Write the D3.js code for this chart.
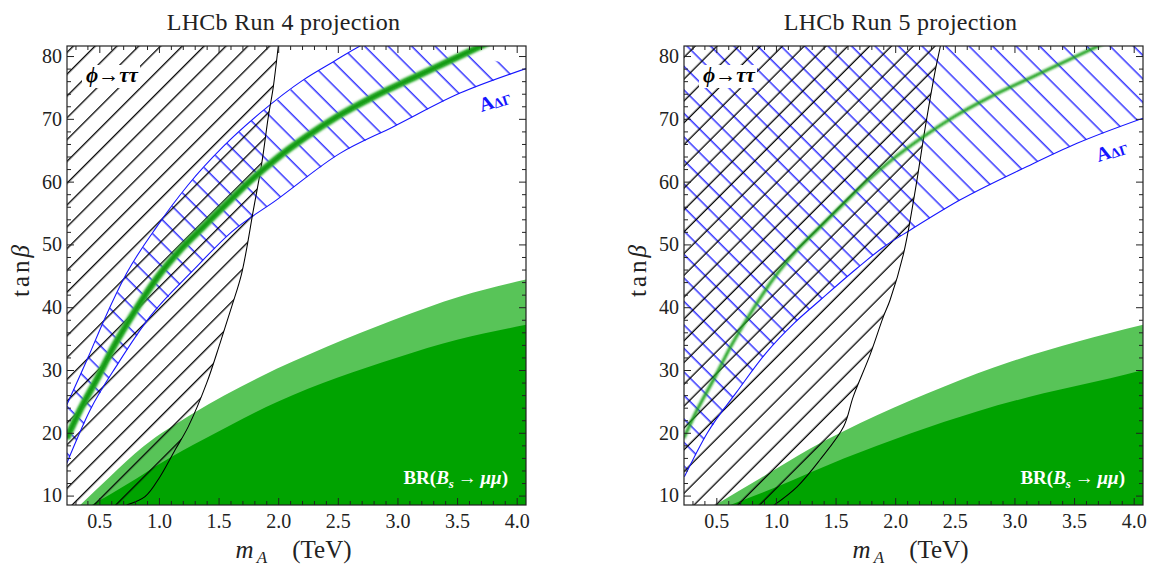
<!DOCTYPE html>
<html>
<head>
<meta charset="utf-8">
<script src="https://cdn.jsdelivr.net/npm/d3@7"></script>
<style>
  body { margin: 0; background: #fff; }
  svg { display: block; font-family: "Liberation Serif", "Times New Roman", serif; }
</style>
</head>
<body>
<svg id="chart" width="1150" height="568"></svg>
<script>
// ---------- data ----------
const titles = ["LHCb Run 4 projection", "LHCb Run 5 projection"];
const xTicks = [0.5, 1.0, 1.5, 2.0, 2.5, 3.0, 3.5, 4.0];
const yTicks = [10, 20, 30, 40, 50, 60, 70, 80];
const mARange = [0.229, 4.078];
const tanBetaRange = [8.5, 81.6];

// central A_ΔΓ contour, [m_A (TeV), tanβ]
const centralLine = [[0.226,19.1],[0.338,23.6],[0.492,29.0],[0.617,33.6],[0.799,39.4],[0.981,44.6],[1.177,49.1],[1.372,52.8],[1.568,56.5],[1.764,60.1],[1.987,63.7],[2.239,67.2],[2.490,70.3],[2.798,73.5],[3.13,76.5],[3.41,79.0],[3.69,81.5],[3.80,82.5]];

// A_ΔΓ bands
const run4BandUpper = [[0.226,24.4],[0.408,32.1],[0.534,37.7],[0.729,45.4],[0.981,52.8],[1.246,59.5],[1.540,65.6],[1.847,70.9],[2.211,76.2],[2.463,79.1],[2.686,81.6],[2.91,83.6]];
const run4BandLower = [[0.226,15.1],[0.422,23.6],[0.659,31.1],[0.925,38.5],[1.288,45.9],[1.610,52.0],[1.987,57.1],[2.518,64.5],[2.966,68.75],[3.525,74.1],[4.078,78.0]];
const run5BandUpper = [[0.20,86.0],[4.10,100.0]];
const run5BandLower = [[0.232,13.0],[0.422,19.9],[0.673,26.55],[0.925,32.9],[1.149,37.4],[1.372,41.15],[1.680,46.2],[1.903,49.6],[2.127,52.3],[2.546,57.1],[3.106,62.4],[3.525,66.1],[4.078,70.1]];

// φ→ττ exclusion boundaries
const run4TauBoundary = [[0.729,8.5],[0.883,9.83],[1.009,13.0],[1.135,17.26],[1.246,20.98],[1.400,27.9],[1.512,34.25],[1.610,40.1],[1.694,45.4],[1.792,55.5],[1.862,62.9],[1.917,70.3],[1.959,75.1],[2.001,81.6],[2.01,83]];
const run5TauBoundary = [[0.978,8.4],[1.177,11.4],[1.369,15.7],[1.568,21.0],[1.649,25.8],[1.789,32.4],[1.901,38.5],[1.957,41.15],[2.071,48.6],[2.169,58.7],[2.253,68.75],[2.337,77.8],[2.379,81.6],[2.39,83]];

// BR(Bs→μμ) regions
const run4BsLight = [[0.34,8.5],[0.589,13.0],[0.869,17.8],[1.288,23.1],[1.847,28.9],[2.407,33.7],[2.966,37.96],[3.525,41.7],[4.078,44.4]];
const run4BsDark = [[0.436,8.5],[0.75,12.0],[1.0,15.0],[1.4,19.2],[2.0,25.0],[2.5,28.8],[3.0,32.0],[3.5,34.8],[4.078,37.2]];
const run5BsLight = [[0.492,8.5],[0.869,12.75],[1.288,17.5],[1.847,22.8],[2.407,27.35],[2.966,31.3],[3.525,34.5],[4.078,37.2]];
const run5BsDark = [[0.617,8.5],[1.009,11.4],[1.568,15.9],[2.127,19.9],[2.686,23.4],[3.245,26.3],[3.804,28.7],[4.078,30.0]];

const panels = [
  { id: "r4", title: titles[0], left: 67, bandUpper: run4BandUpper, bandLower: run4BandLower,
    tau: run4TauBoundary, bsLight: run4BsLight, bsDark: run4BsDark, lineWide: true, aLabelY: 66,
    tauPhase: 6.4, bandPhase: 15.5 },
  { id: "r5", title: titles[1], left: 684, bandUpper: run5BandUpper, bandLower: run5BandLower,
    tau: run5TauBoundary, bsLight: run5BsLight, bsDark: run5BsDark, lineWide: false, aLabelY: 116,
    tauPhase: 11.3, bandPhase: 3 }
];

// ---------- layout ----------
const W = 459, H = 459, TOP = 46;
const svg = d3.select("#chart");
const x = d3.scaleLinear().domain(mARange).range([0, W]);
const y = d3.scaleLinear().domain(tanBetaRange).range([H, 0]);

const defs = svg.append("defs");
// diagonal hatch: 'gap' is the horizontal distance between lines, 'phase' shifts them along x
function hatch(id, angle, color, width, gap, phase) {
  const sp = gap / Math.SQRT2;
  const off = ((phase / Math.SQRT2) % sp + sp) % sp;
  const p = defs.append("pattern").attr("id", id)
    .attr("patternUnits", "userSpaceOnUse")
    .attr("width", sp).attr("height", 20)
    .attr("patternTransform", `rotate(${angle})`);
  [off - sp, off, off + sp].forEach(o =>
    p.append("line").attr("x1", o).attr("x2", o).attr("y1", -2).attr("y2", 22)
      .attr("stroke", color).attr("stroke-width", width));
}
panels.forEach(p => {
  hatch("hatchTau-" + p.id, 45, "#000", 1.3, 21.8, p.tauPhase);
  hatch("hatchBand-" + p.id, -45, "#1515ff", 1.3, 23.5, p.bandPhase);
});
defs.append("filter").attr("id", "soft").attr("x", "-10%").attr("y", "-10%")
  .attr("width", "120%").attr("height", "120%")
  .append("feGaussianBlur").attr("stdDeviation", 0.8);
defs.append("clipPath").attr("id", "plotClip")
  .append("rect").attr("width", W).attr("height", H);

const line = d3.line().x(d => x(d[0])).y(d => y(d[1])).curve(d3.curveMonotoneX);
const lineY = d3.line().x(d => x(d[0])).y(d => y(d[1])).curve(d3.curveCatmullRom);

panels.forEach(p => {
  const g = svg.append("g").attr("transform", `translate(${p.left},${TOP})`);
  const plot = g.append("g").attr("clip-path", "url(#plotClip)");
  plot.append("rect").attr("width", W).attr("height", H).attr("fill", "#fff");

  // BR(Bs→μμ) shaded regions
  const area = d3.area().x(d => x(d[0])).y0(y(tanBetaRange[0]) + 2).y1(d => y(d[1])).curve(d3.curveMonotoneX);
  plot.append("path").datum(p.bsLight).attr("d", area).attr("fill", "#58c458");
  plot.append("path").datum(p.bsDark).attr("d", area).attr("fill", "#00a300");

  // A_ΔΓ hatched band
  const bandPts = p.bandUpper.concat(p.bandLower.slice().reverse());
  plot.append("path")
    .attr("d", "M" + bandPts.map(d => [x(d[0]), y(d[1])].join(",")).join("L") + "Z")
    .attr("fill", `url(#hatchBand-${p.id})`);

  // φ→ττ hatched exclusion
  const tauPts = p.tau.concat([[mARange[0] - 0.1, p.tau[p.tau.length - 1][1]], [mARange[0] - 0.1, tanBetaRange[0] - 1]]);
  plot.append("path")
    .attr("d", lineY(p.tau) + "L" + tauPts.slice(p.tau.length).map(d => [x(d[0]), y(d[1])].join(",")).join("L") + "Z")
    .attr("fill", `url(#hatchTau-${p.id})`);

  // label φ→ττ on a white patch
  plot.append("rect").attr("x", 15).attr("y", 19).attr("width", 58).attr("height", 23).attr("fill", "#fff");
  plot.append("text").attr("x", 19).attr("y", 36).attr("font-size", 21).attr("font-weight", "bold")
    .attr("fill", "#000")
    .call(t => {
      t.append("tspan").attr("font-style", "italic").text("ϕ");
      t.append("tspan").text("→");
      t.append("tspan").attr("font-style", "italic").text("ττ");
    });

  // band edges
  plot.append("path").datum(p.bandUpper).attr("d", line).attr("fill", "none").attr("stroke", "#1515ff").attr("stroke-width", 1.1);
  plot.append("path").datum(p.bandLower).attr("d", line).attr("fill", "none").attr("stroke", "#1515ff").attr("stroke-width", 1.1);

  // φ→ττ boundary
  plot.append("path").datum(p.tau).attr("d", lineY).attr("fill", "none").attr("stroke", "#000").attr("stroke-width", 1.05);

  // central A_ΔΓ line
  if (p.lineWide) {
    plot.append("path").datum(centralLine).attr("d", line).attr("fill", "none")
      .attr("stroke", "#45b845").attr("stroke-width", 7).attr("filter", "url(#soft)");
    plot.append("path").datum(centralLine).attr("d", line).attr("fill", "none")
      .attr("stroke", "#0a980a").attr("stroke-width", 3.8).attr("filter", "url(#soft)");
  } else {
    plot.append("path").datum(centralLine).attr("d", line).attr("fill", "none")
      .attr("stroke", "#18a018").attr("stroke-width", 3).attr("filter", "url(#soft)");
  }

  // A_ΔΓ label
  const aLab = plot.append("text")
    .attr("transform", `translate(414.5,${p.aLabelY}) rotate(-18)`)
    .attr("fill", "#1515ff").attr("font-weight", "bold");
  aLab.append("tspan").attr("font-size", 20).text("A");
  aLab.append("tspan").attr("font-size", 14).attr("dy", 1).text("ΔΓ");

  // BR label
  const br = plot.append("text").attr("x", 441).attr("y", 438).attr("text-anchor", "end")
    .attr("fill", "#fff").attr("font-weight", "bold").attr("font-size", 19);
  br.append("tspan").text("BR(");
  br.append("tspan").attr("font-style", "italic").text("B");
  br.append("tspan").attr("font-style", "italic").attr("font-size", 13).attr("dy", 4).text("s");
  br.append("tspan").attr("dy", -4).text("\u2009→\u2009");
  br.append("tspan").attr("font-style", "italic").text("μμ");
  br.append("tspan").text(")");

  // frame and ticks
  const xMinor = d3.range(3, 41).map(v => v / 10).filter(v => !xTicks.some(t => Math.abs(t - v) < 1e-6));
  const yMinor = d3.range(10, 82, 2).filter(v => v % 10 !== 0);
  const axes = [
    { ax: d3.axisBottom(x), tr: `translate(0,${H})`, labels: true },
    { ax: d3.axisTop(x), tr: "translate(0,0)", labels: false },
    { ax: d3.axisLeft(y), tr: "translate(0,0)", labels: true },
    { ax: d3.axisRight(y), tr: `translate(${W},0)`, labels: false }
  ];
  axes.forEach((a, i) => {
    const horiz = i < 2;
    const major = a.ax.tickValues(horiz ? xTicks : yTicks).tickSize(-7)
      .tickFormat(a.labels ? (horiz ? d3.format(".1f") : d3.format("d")) : "")
      .tickPadding(horiz ? 9 : 5);
    const ga = g.append("g").attr("transform", a.tr).call(major);
    ga.select(".domain").remove();
    ga.selectAll("line").attr("stroke", "#222");
    ga.selectAll("text").attr("font-family", "Liberation Serif, serif").attr("font-size", 20).attr("fill", "#222");
    const minorAx = (horiz ? (i === 0 ? d3.axisBottom(x) : d3.axisTop(x)) : (i === 2 ? d3.axisLeft(y) : d3.axisRight(y)))
      .tickValues(horiz ? xMinor : yMinor).tickSize(-4).tickFormat("");
    const gm = g.append("g").attr("transform", a.tr).call(minorAx);
    gm.select(".domain").remove();
    gm.selectAll("line").attr("stroke", "#222");
  });
  g.append("rect").attr("width", W).attr("height", H).attr("fill", "none").attr("stroke", "#222").attr("stroke-width", 1.2);

  // titles and axis labels
  g.append("text").attr("x", W / 2 - 13).attr("y", -16).attr("text-anchor", "middle")
    .attr("font-size", 24).attr("letter-spacing", 0.3).attr("fill", "#222").text(p.title);

  const xl = g.append("text").attr("x", W / 2 - 3).attr("y", H + 53).attr("text-anchor", "middle")
    .attr("font-size", 25).attr("fill", "#222");
  xl.append("tspan").attr("font-style", "italic").text("m");
  xl.append("tspan").attr("font-style", "italic").attr("font-size", 17).attr("dy", 5).text("\u2009A");
  xl.append("tspan").attr("dy", -5).text("\u2003(TeV)");

  g.append("text").attr("transform", `translate(-38,${H / 2 - 6}) rotate(-90)`).attr("text-anchor", "middle")
    .attr("font-size", 25).attr("fill", "#222").attr("letter-spacing", 3)
    .call(t => {
      t.append("tspan").text("tan");
      t.append("tspan").attr("font-style", "italic").text("β");
    });
});
</script>
</body>
</html>
